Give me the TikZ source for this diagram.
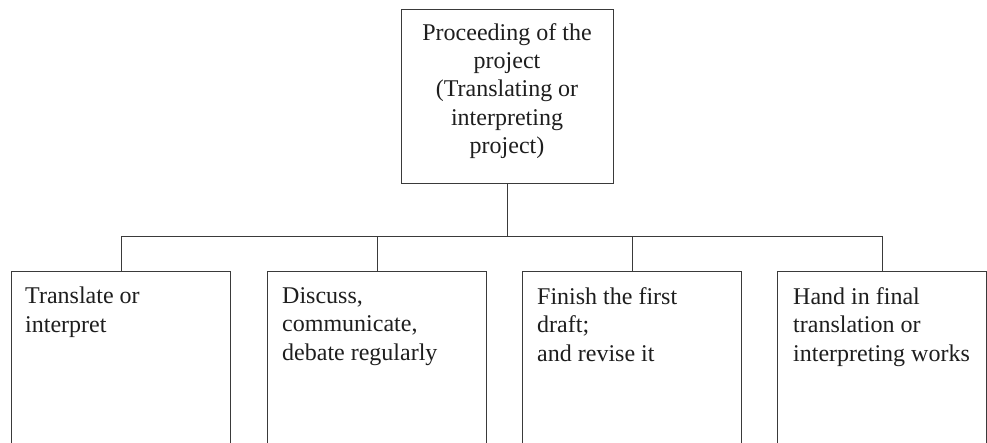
\documentclass[tikz,border=0pt]{standalone}
\usepackage{fontspec}
\setmainfont{Liberation Serif}
\usepackage{tikz}
\usetikzlibrary{calc}
\definecolor{lineGray}{HTML}{3A3A3A}
\definecolor{textGray}{HTML}{1E1E1E}
\tikzset{
  box/.style={draw=lineGray, line width=0.9pt, minimum width=219, minimum height=210,
    anchor=north west, inner sep=0pt},
  boxtext/.style={anchor=north west, inner sep=0pt, align=left, text=textGray,
    font=\fontsize{24}{28.7}\selectfont},
  link/.style={draw=lineGray, line width=0.9pt}
}

\begin{document}
\begin{tikzpicture}[x=1pt,y=-1pt]
\useasboundingbox (0,0) rectangle (987,442);
\fill[white] (0,0) rectangle (987,442);
\clip (0,0) rectangle (987,442);
% top box
\node[draw=lineGray, line width=0.9pt, minimum width=212, minimum height=174,
  inner sep=0pt] (top) at (507,96) {};
\node[align=center, text=textGray, inner sep=0pt,
  font=\fontsize{24}{28.3}\selectfont] (toptext) at ($(top.center)+(0,-5)$)
  {Proceeding of the\\ project\\ (Translating or\\ interpreting\\ project)};
% tasks, open at the bottom
\node[box] (b1) at (11,271) {};
\node[box] (b2) at (267,271) {};
\node[box] (b3) at (522,271) {};
\node[box, minimum width=209] (b4) at (777,271) {};
\node[boxtext] (t1) at ($(b1.north west)+(14,16)$) {Translate or\\ interpret};
\node[boxtext] (t2) at ($(b2.north west)+(15,16)$) {Discuss,\\ communicate,\\ debate regularly};
\node[boxtext] (t3) at ($(b3.north west)+(15,16)$) {Finish the first\\ draft;\\ and revise it};
\node[boxtext] (t4) at ($(b4.north west)+(16,16)$) {Hand in final\\ translation or\\ interpreting works};
% connectors
\coordinate (bus) at (507,236);
\draw[link] (top.south) -- (bus);
\draw[link] (b1.north) |- (b4.north |- bus) -- (b4.north);
\draw[link] (b2.north) -- (b2.north |- bus);
\draw[link] (b3.north) -- (b3.north |- bus);
\end{tikzpicture}
\end{document}
